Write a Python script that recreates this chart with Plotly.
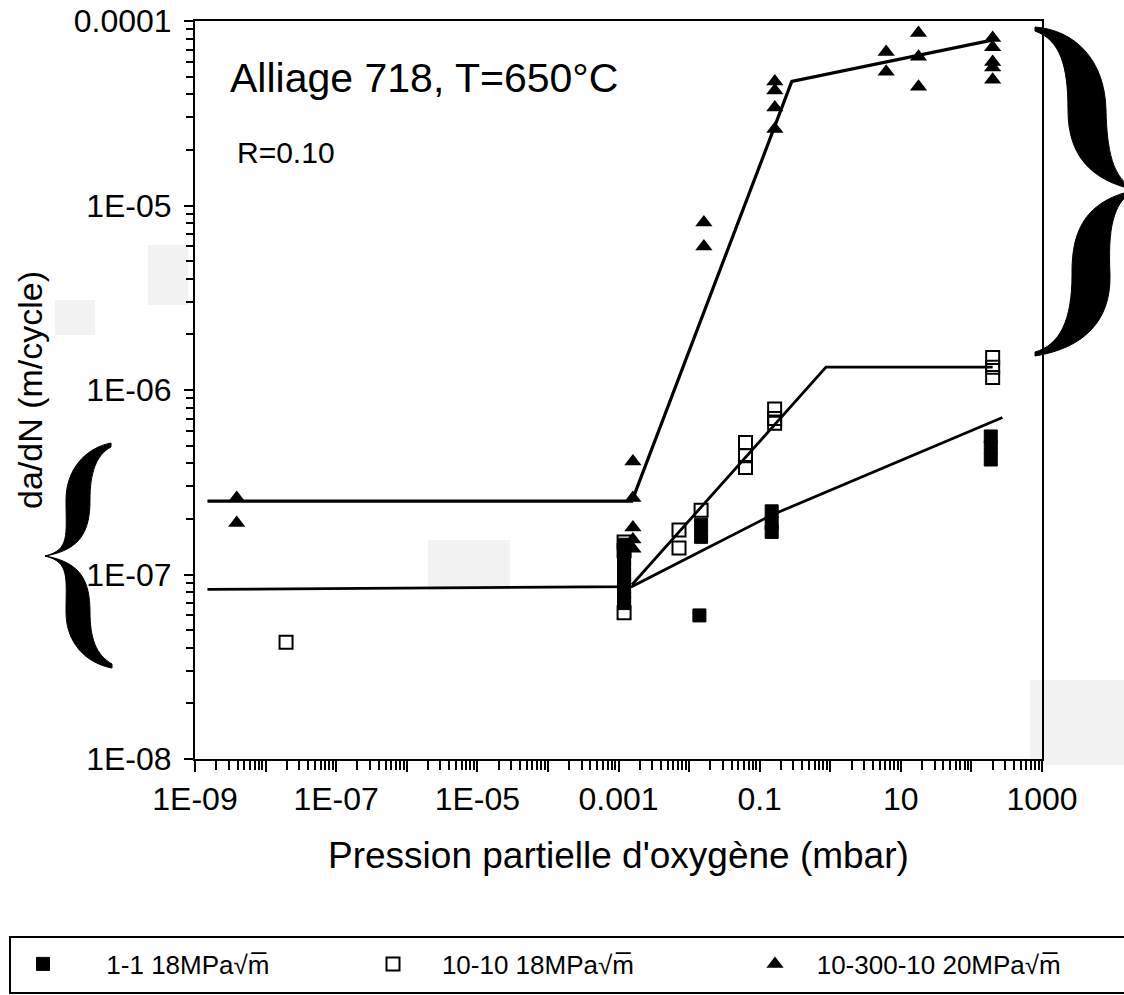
import plotly.graph_objects as go

# ---------------- data ----------------
# 1-1 18MPa√m (filled squares)
filled_x = [1.2e-3, 1.2e-3, 1.2e-3, 1.2e-3, 1.2e-3, 1.2e-3, 1.2e-3, 1.2e-3, 1.2e-3, 1.2e-3,
            0.014, 0.0148, 0.0148, 0.148, 0.148, 0.148, 188, 188, 188]
filled_y = [1.45e-7, 1.3e-7, 1.2e-7, 1.1e-7, 1.0e-7, 9.3e-8, 8.6e-8, 8.0e-8, 7.4e-8, 7.0e-8,
            6.0e-8, 1.86e-7, 1.6e-7, 2.2e-7, 1.9e-7, 1.7e-7, 5.6e-7, 4.9e-7, 4.2e-7]

# 10-10 18MPa√m (open squares)
open_x = [1.95e-8, 1.2e-3, 1.2e-3, 1.2e-3, 7.2e-3, 7.2e-3, 0.0148, 0.063, 0.063, 0.063,
          0.163, 0.163, 0.163, 200, 200, 200]
open_y = [4.3e-8, 6.2e-8, 1.5e-7, 1.35e-7, 1.74e-7, 1.39e-7, 2.23e-7, 5.2e-7, 4.4e-7, 3.8e-7,
          7.9e-7, 7.0e-7, 6.6e-7, 1.5e-6, 1.33e-6, 1.17e-6]

# 10-300-10 20MPa√m (triangles)
tri_x = [3.9e-9, 3.9e-9, 1.6e-3, 1.6e-3, 1.6e-3, 1.6e-3, 1.6e-3, 0.0162, 0.0162,
         0.164, 0.164, 0.164, 0.164, 6.2, 6.2, 17.8, 17.8, 17.8, 200, 200, 200, 200, 200]
tri_y = [2.6e-7, 1.9e-7, 4.1e-7, 2.6e-7, 1.8e-7, 1.55e-7, 1.38e-7, 8.1e-6, 6.0e-6,
         4.7e-5, 4.2e-5, 3.4e-5, 2.6e-5, 6.8e-5, 5.3e-5, 8.6e-5, 6.4e-5, 4.4e-5,
         8.1e-5, 7.2e-5, 6.0e-5, 5.6e-5, 4.8e-5]

# fitted trend lines
filled_fit_x = [1.5e-9, 1.55e-3, 0.148, 275]
filled_fit_y = [8.3e-8, 8.6e-8, 2.1e-7, 7.1e-7]
open_fit_x = [1.55e-3, 0.87, 200]
open_fit_y = [8.8e-8, 1.33e-6, 1.33e-6]
tri_fit_x = [1.5e-9, 1.55e-3, 0.285, 204]
tri_fit_y = [2.5e-7, 2.5e-7, 4.7e-5, 7.9e-5]

# tick labels
x_tickvals = [1e-9, 1e-8, 1e-7, 1e-6, 1e-5, 1e-4, 1e-3, 1e-2, 1e-1, 1e0, 1e1, 1e2, 1e3]
x_ticktext = ["1E-09", "", "1E-07", "", "1E-05", "", "0.001", "", "0.1", "", "10", "", "1000"]
y_tickvals = [1e-8, 1e-7, 1e-6, 1e-5, 1e-4]
y_ticktext = ["1E-08", "1E-07", "1E-06", "1E-05", "0.0001"]

names = ["1-1 18MPa√m\u0305", "10-10 18MPa√m\u0305", "10-300-10 20MPa√m\u0305"]

# ---------------- layout geometry ----------------
W, H = 1124, 995
L, R, T, B = 195, 1042, 21, 759
FONT = "Liberation Sans, Arial, Helvetica, sans-serif"


def pp(px, py):
    return (px - L) / (R - L), (B - py) / (B - T)


def path_from(cmds):
    out = []
    for c in cmds:
        letter, pts = c[0], c[1:]
        coords = []
        for (a, b) in pts:
            x, y = pp(a, b)
            coords.append(f"{x:.5f},{y:.5f}")
        out.append(letter + " " + " ".join(coords))
    return " ".join(out) + " Z"


fig = go.Figure()

fig.add_trace(go.Scatter(x=filled_fit_x, y=filled_fit_y, mode="lines",
                         line=dict(color="black", width=2.8),
                         showlegend=False, hoverinfo="skip"))
fig.add_trace(go.Scatter(x=open_fit_x, y=open_fit_y, mode="lines",
                         line=dict(color="black", width=2.8),
                         showlegend=False, hoverinfo="skip"))
fig.add_trace(go.Scatter(x=tri_fit_x, y=tri_fit_y, mode="lines",
                         line=dict(color="black", width=3.2),
                         showlegend=False, hoverinfo="skip"))

fig.add_trace(go.Scatter(x=filled_x, y=filled_y, mode="markers",
                         name="      " + names[0], legend="legend",
                         marker=dict(symbol="square", size=13, color="black",
                                     line=dict(color="black", width=1))))
fig.add_trace(go.Scatter(x=open_x, y=open_y, mode="markers",
                         name="    " + names[1], legend="legend2",
                         marker=dict(symbol="square-open", size=13, color="black",
                                     line=dict(color="black", width=2))))
fig.add_trace(go.Scatter(x=tri_x, y=tri_y, mode="markers",
                         name="   " + names[2], legend="legend3",
                         marker=dict(symbol="triangle-up", size=15, color="black")))

minor_x = [d * 10.0 ** k for k in range(-9, 3) for d in range(2, 10)]
minor_y = [d * 10.0 ** k for k in range(-8, -4) for d in range(2, 10)]

fig.update_xaxes(type="log", range=[-9, 3], tickmode="array", tickvals=x_tickvals,
                 ticktext=x_ticktext, ticks="outside", ticklen=11, tickwidth=2,
                 tickcolor="black", showline=True, linecolor="black", linewidth=2,
                 mirror=True, showgrid=False, zeroline=False,
                 tickfont=dict(family=FONT, size=32, color="black"),
                 minor=dict(tickmode="array", tickvals=minor_x, ticks="outside",
                            ticklen=9, tickwidth=2, tickcolor="black", showgrid=False))
fig.update_yaxes(type="log", range=[-8, -4], tickmode="array", tickvals=y_tickvals,
                 ticktext=y_ticktext, ticks="outside", ticklen=9, tickwidth=2,
                 tickcolor="black", showline=True, linecolor="black", linewidth=2,
                 mirror=True, showgrid=False, zeroline=False, ticklabelstandoff=6,
                 tickfont=dict(family=FONT, size=32, color="black"),
                 minor=dict(tickmode="array", tickvals=minor_y, ticks="outside",
                            ticklen=7, tickwidth=2, tickcolor="black", showgrid=False))

# annotations (titles)
ann = []
x0, y0 = pp(424, 78)
ann.append(dict(text="Alliage 718, T=650°C", x=x0, y=y0, xref="paper", yref="paper",
                showarrow=False, xanchor="center", yanchor="middle",
                font=dict(family=FONT, size=41, color="black")))
x0, y0 = pp(286, 153)
ann.append(dict(text="R=0.10", x=x0, y=y0, xref="paper", yref="paper",
                showarrow=False, xanchor="center", yanchor="middle",
                font=dict(family=FONT, size=30, color="black")))
x0, y0 = pp(618, 855)
ann.append(dict(text="Pression partielle d'oxygène (mbar)", x=x0, y=y0, xref="paper",
                yref="paper", showarrow=False, xanchor="center", yanchor="middle",
                font=dict(family=FONT, size=37, color="black")))
x0, y0 = pp(30, 390)
ann.append(dict(text="da/dN (m/cycle)", x=x0, y=y0, xref="paper", yref="paper",
                showarrow=False, xanchor="center", yanchor="middle", textangle=-90,
                font=dict(family=FONT, size=34, color="black")))

shapes = []
# faint scan patches
for (a, b, c, d) in [(148, 245, 188, 305), (55, 300, 95, 335), (428, 540, 510, 590),
                     (1030, 680, 1124, 765)]:
    xa, ya = pp(a, d)
    xb, yb = pp(c, b)
    shapes.append(dict(type="rect", xref="paper", yref="paper", x0=xa, y0=ya, x1=xb, y1=yb,
                       fillcolor="#f2f2f2", line=dict(width=0), layer="below"))

# left curly brace
left_brace = path_from([
    ("M", (111, 443)),
    ("C", (85, 448), (66, 470), (66, 500)),
    ("C", (66, 535), (70, 550), (45, 556)),
    ("C", (70, 562), (66, 578), (66, 612)),
    ("C", (66, 642), (85, 663), (112, 668)),
    ("L", (112, 664)),
    ("C", (96, 655), (90, 638), (90, 612)),
    ("C", (90, 580), (80, 562), (45, 556)),
    ("C", (80, 550), (90, 532), (90, 500)),
    ("C", (90, 473), (96, 455), (111, 447)),
])
shapes.append(dict(type="path", xref="paper", yref="paper", path=left_brace,
                   fillcolor="black", line=dict(color="black", width=1)))
# right curly brace
right_brace = path_from([
    ("M", (1035, 27)),
    ("C", (1075, 30), (1105, 60), (1106, 110)),
    ("C", (1107, 150), (1112, 178), (1135, 190)),
    ("C", (1112, 202), (1108, 230), (1110, 275)),
    ("C", (1111, 320), (1085, 348), (1035, 356)),
    ("L", (1035, 352)),
    ("C", (1060, 345), (1072, 320), (1072, 275)),
    ("C", (1071, 225), (1090, 200), (1135, 190)),
    ("C", (1090, 180), (1068, 155), (1068, 110)),
    ("C", (1068, 65), (1060, 40), (1035, 31)),
])
shapes.append(dict(type="path", xref="paper", yref="paper", path=right_brace,
                   fillcolor="black", line=dict(color="black", width=1)))

# legend frame
xa, ya = pp(10, 993)
xb, yb = pp(1135, 937)
shapes.append(dict(type="rect", xref="paper", yref="paper", x0=xa, y0=ya, x1=xb, y1=yb,
                   line=dict(color="black", width=2), fillcolor="rgba(0,0,0,0)"))


def legend_at(px):
    lx, ly = pp(px, 964)
    return dict(orientation="h", x=lx, y=ly, xanchor="left", yanchor="middle",
                font=dict(family=FONT, size=26, color="black"),
                bgcolor="rgba(0,0,0,0)", borderwidth=0, itemsizing="trace")


fig.update_layout(
    width=W, height=H,
    margin=dict(l=L, r=W - R, t=T, b=H - B, autoexpand=False),
    paper_bgcolor="white", plot_bgcolor="white",
    font=dict(family=FONT, color="black"),
    annotations=ann, shapes=shapes,
    showlegend=True,
    legend=legend_at(23),
    legend2=legend_at(373),
    legend3=legend_at(755),
)

fig.write_html("out.html")
